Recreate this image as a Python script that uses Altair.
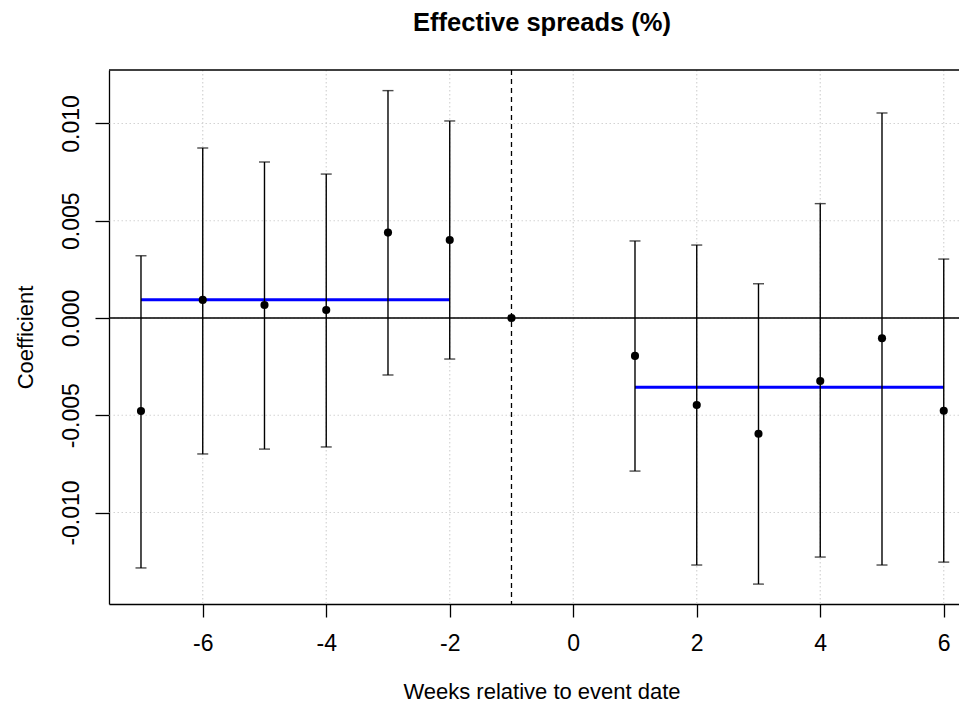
import altair as alt
import pandas as pd

# ---- data ----
weeks = [-7, -6, -5, -4, -3, -2, -1, 1, 2, 3, 4, 5, 6]
coef = [-0.00478, 0.00093, 0.00067, 0.00041, 0.00439, 0.00401, 0.0,
        -0.00195, -0.00447, -0.00595, -0.00324, -0.00104, -0.00477]
upper = [0.00320, 0.00874, 0.00802, 0.00740, 0.01169, 0.01013, None,
         0.00396, 0.00375, 0.00176, 0.00588, 0.01054, 0.00303]
lower = [-0.01285, -0.00699, -0.00674, -0.00663, -0.00293, -0.00211, None,
         -0.00787, -0.01270, -0.01368, -0.01229, -0.01270, -0.01255]

seg_start = [-7, 1]
seg_end = [-2, 6]
seg_mean = [0.00094, -0.00356]

x_ticks = [-6, -4, -2, 0, 2, 4, 6]
y_ticks = [-0.010, -0.005, 0.0, 0.005, 0.010]
event_line = [-1]
zero_line = [0.0]

W, H = 850, 534
XDOM = [-7.518, 6.247]
YDOM = [-0.014704, 0.01275]
FONT = "Liberation Sans"

pts = pd.DataFrame({"week": weeks, "coef": coef})
err = pd.DataFrame({"week": weeks, "lo": lower, "hi": upper}).dropna()
segs = pd.DataFrame({"x1": seg_start, "x2": seg_end, "m": seg_mean})

xs = alt.Scale(domain=XDOM, nice=False, zero=False)
ys = alt.Scale(domain=YDOM, nice=False, zero=False)

grid_style = dict(color="#D3D3D3", strokeDash=[1.5, 2.5], strokeWidth=1.2)

xgrid = alt.Chart(pd.DataFrame({"g": x_ticks})).mark_rule(**grid_style).encode(
    x=alt.X("g:Q", scale=xs, title="Weeks relative to event date",
            axis=alt.Axis(values=x_ticks, labelExpr="datum.value",
                          tickSize=13, labelPadding=33,
                          labelBaseline="alphabetic",
                          titleX=432.5, titleY=94,
                          titleBaseline="alphabetic", titleAlign="center"))
)
ygrid = alt.Chart(pd.DataFrame({"g": y_ticks})).mark_rule(**grid_style).encode(
    y=alt.Y("g:Q", scale=ys, title="Coefficient",
            axis=alt.Axis(values=y_ticks,
                          labelExpr="replace(format(datum.value, '.3f'), '\u2212', '-')",
                          tickSize=14, labelPadding=17, labelAngle=270,
                          labelAlign="center", labelBaseline="alphabetic",
                          titleAngle=270, titleX=-77, titleY=267,
                          titleBaseline="alphabetic", titleAlign="center"))
)

zero = alt.Chart(pd.DataFrame({"z": zero_line})).mark_rule(
    color="black", strokeWidth=1.3).encode(y=alt.Y("z:Q", scale=ys))

event = alt.Chart(pd.DataFrame({"e": event_line})).mark_rule(
    color="black", strokeWidth=1.3, strokeDash=[5, 4]).encode(
    x=alt.X("e:Q", scale=xs))

top_border = alt.Chart(pd.DataFrame({"z": [0]})).mark_rule(
    color="black", strokeWidth=1.3).encode(
    x=alt.value(0), x2=alt.value(W), y=alt.value(0))

blue = alt.Chart(segs).mark_rule(color="#0000FF", strokeWidth=3).encode(
    x=alt.X("x1:Q", scale=xs), x2="x2:Q", y=alt.Y("m:Q", scale=ys))

bars = alt.Chart(err).mark_rule(color="black", strokeWidth=1.4).encode(
    x=alt.X("week:Q", scale=xs), y=alt.Y("lo:Q", scale=ys), y2="hi:Q")

cap_hi = alt.Chart(err).mark_tick(
    color="black", orient="horizontal", size=11, thickness=1.4).encode(
    x=alt.X("week:Q", scale=xs), y=alt.Y("hi:Q", scale=ys))
cap_lo = alt.Chart(err).mark_tick(
    color="black", orient="horizontal", size=11, thickness=1.4).encode(
    x=alt.X("week:Q", scale=xs), y=alt.Y("lo:Q", scale=ys))

points = alt.Chart(pts).mark_circle(color="black", opacity=1, size=66).encode(
    x=alt.X("week:Q", scale=xs), y=alt.Y("coef:Q", scale=ys))

chart = alt.layer(
    xgrid, ygrid, zero, event, top_border, blue, bars, cap_hi, cap_lo, points
).properties(
    width=W, height=H,
    title=alt.TitleParams("Effective spreads (%)", fontSize=25.5, font=FONT,
                          fontWeight="bold", anchor="middle", frame="group",
                          baseline="alphabetic", offset=13, dx=8, color="black"),
    autosize=alt.AutoSizeParams(type="none"),
    padding={"left": 101, "top": 62, "right": 0, "bottom": 99},
).configure_view(stroke=None).configure_axis(
    grid=False, domainColor="black", domainWidth=1.3, tickColor="black",
    tickWidth=1.3, labelFont=FONT, titleFont=FONT, labelFontSize=23,
    titleFontSize=22, labelColor="black", titleColor="black",
    titleFontWeight="normal", labelFlush=False, labelOverlap=False
)

chart.save("out.html", embed_options={"renderer": "svg", "actions": False})
